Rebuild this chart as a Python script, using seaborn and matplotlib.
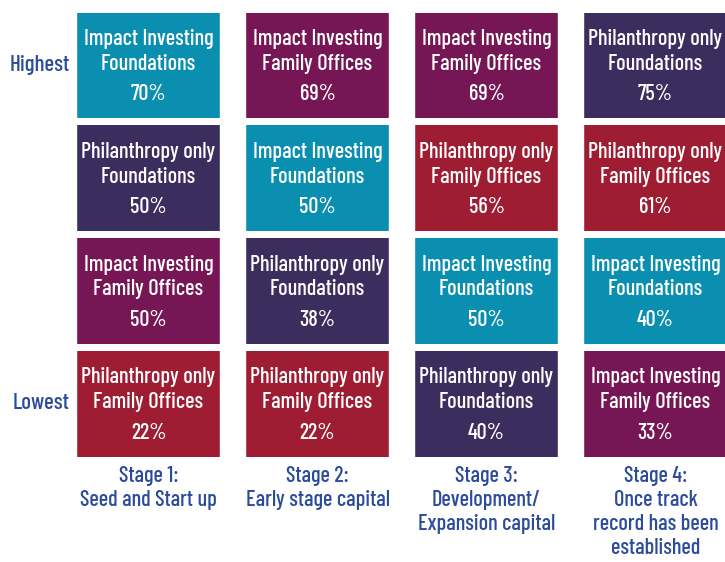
import numpy as np
import pandas as pd
import seaborn as sns
import matplotlib.pyplot as plt
from matplotlib.colors import ListedColormap

stages = ["Stage 1:\nSeed and Start up", "Stage 2:\nEarly stage capital",
          "Stage 3:\nDevelopment/\nExpansion capital",
          "Stage 4:\nOnce track\nrecord has been\nestablished"]
ranks = ["Highest", "", "", "Lowest"]

groups = ["Impact Investing\nFoundations", "Impact Investing\nFamily Offices",
          "Philanthropy only\nFoundations", "Philanthropy only\nFamily Offices"]
group_colors = ["#0a8fb0", "#771654", "#3b2d5e", "#9e1d33"]

# group index per cell, rows = rank (highest -> lowest), cols = stage
stage1_groups = [0, 2, 1, 3]
stage2_groups = [1, 0, 2, 3]
stage3_groups = [1, 3, 0, 2]
stage4_groups = [2, 3, 0, 1]

stage1_pct = [70, 50, 50, 22]
stage2_pct = [69, 50, 38, 22]
stage3_pct = [69, 56, 50, 40]
stage4_pct = [75, 61, 40, 33]

codes = pd.DataFrame(np.array([stage1_groups, stage2_groups, stage3_groups, stage4_groups]).T,
                     index=ranks, columns=stages)
pcts = np.array([stage1_pct, stage2_pct, stage3_pct, stage4_pct]).T

sns.set_style("white")
plt.rcParams['font.family'] = ['Barlow Condensed', 'Roboto Condensed', 'DejaVu Sans']

fig = plt.figure(figsize=(7.25, 5.62), dpi=100)
ax = fig.add_axes([64 / 725, 1 - 459.5 / 562, 676 / 725, 451 / 562])

sns.heatmap(codes, ax=ax, cmap=ListedColormap(group_colors), vmin=-0.5, vmax=3.5,
            cbar=False, linewidths=5, linecolor="white")
ax.set_axisbelow(False)

# wider white gaps between the stage columns
for x in range(len(stages) + 1):
    ax.axvline(x, color="white", lw=19)

name_font = dict(color="white", fontsize=16, ha="center", va="baseline",
                 linespacing=1.3, fontweight="medium")
for i in range(len(ranks)):
    for j in range(len(stages)):
        ax.text(j + 0.5, i + 0.5 + 0.044, groups[codes.iloc[i, j]], **name_font)
        ax.text(j + 0.5, i + 0.5 + 0.315, f"{pcts[i, j]}%", **name_font)

ax.tick_params(axis="both", length=0)
ax.tick_params(axis="x", pad=5)
ax.tick_params(axis="y", pad=-4)
ax.set_xticklabels(stages, rotation=0, fontsize=16, color="#2c4c9b", linespacing=1.25,
                   va="top", fontweight="medium")
ax.set_yticklabels(ranks, rotation=0, fontsize=16.5, color="#2c4c9b", fontweight="medium")
ax.set_xlabel("")
ax.set_ylabel("")

fig.savefig("out.png", dpi=100)
